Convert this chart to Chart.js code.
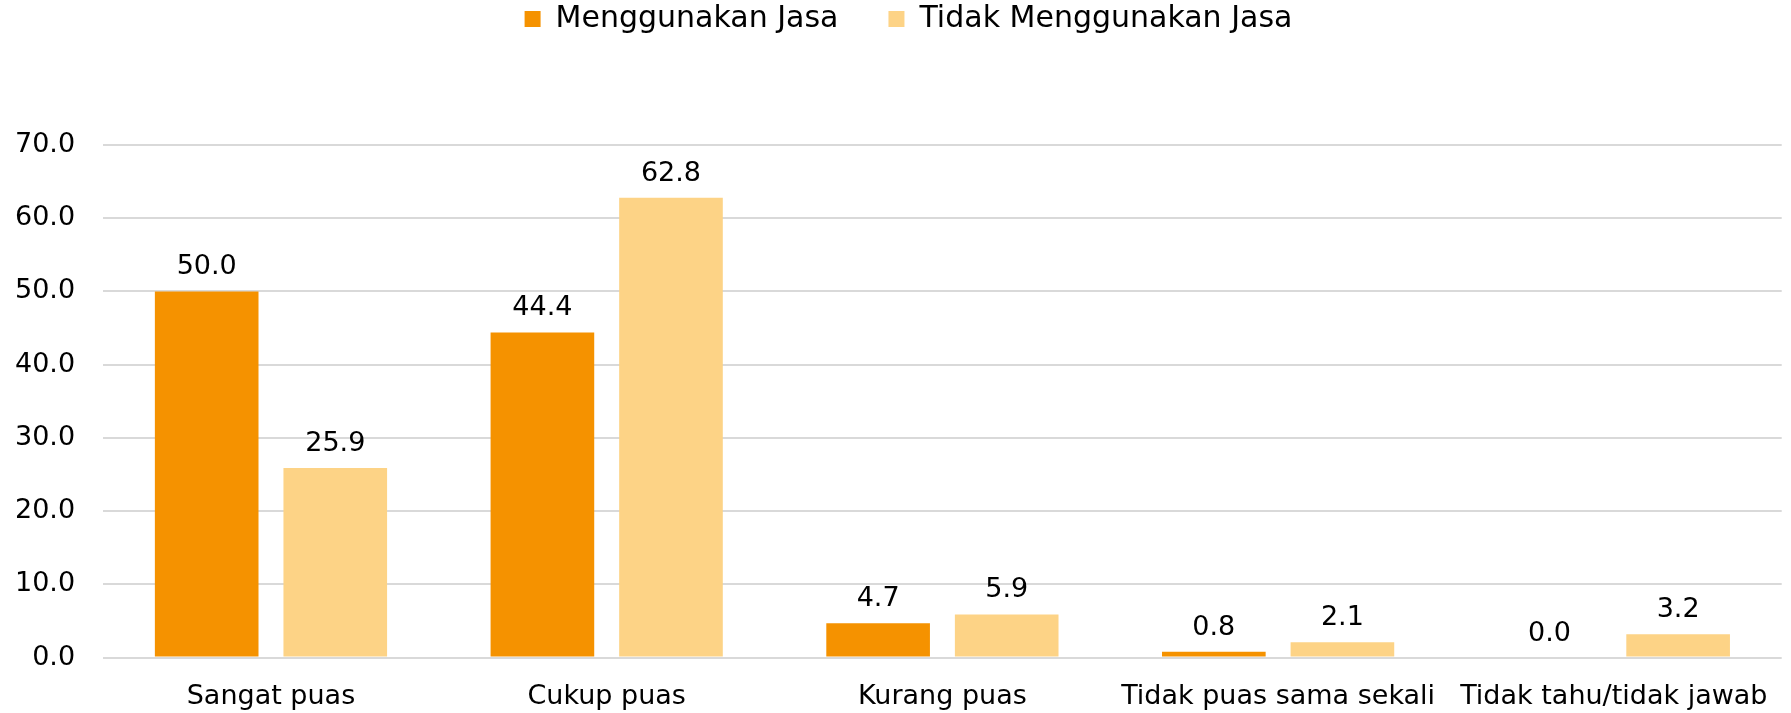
<!DOCTYPE html>
<html>
<head>
<meta charset="utf-8">
<script src="https://cdn.jsdelivr.net/npm/chart.js@4/dist/chart.umd.min.js"></script>
<style>
  html, body { margin: 0; padding: 0; background: #fff; }
  #wrap { width: 1791px; height: 713px; position: relative; }
</style>
</head>
<body>
<div id="wrap"><canvas id="grafik"></canvas></div>
<script>
// data
const kategori = ['Sangat puas', 'Cukup puas', 'Kurang puas', 'Tidak puas sama sekali', 'Tidak tahu/tidak jawab'];
const pakaiJasa = [50.0, 44.4, 4.7, 0.8, 0.0];
const tidakPakaiJasa = [25.9, 62.8, 5.9, 2.1, 3.2];
const tickY = [0, 10, 20, 30, 40, 50, 60, 70];

const FONT = '"DejaVu Sans", sans-serif';
const UKURAN = 27;

// label nilai di atas tiap batang
const labelNilai = {
  id: 'labelNilai',
  afterDatasetsDraw(chart) {
    const ctx = chart.ctx;
    ctx.save();
    ctx.font = `${UKURAN}px ${FONT}`;
    ctx.fillStyle = '#000';
    ctx.textAlign = 'center';
    ctx.textBaseline = 'alphabetic';
    chart.data.datasets.forEach((ds, i) => {
      const meta = chart.getDatasetMeta(i);
      meta.data.forEach((bar, j) => {
        ctx.fillText(ds.data[j].toFixed(1), bar.x, bar.y - 17);
      });
    });
    ctx.restore();
  }
};

// legenda: jarak ekstra di bawahnya, lalu digeser ke atas dan sedikit ke kanan
const aturLegenda = {
  id: 'aturLegenda',
  beforeInit(chart) {
    const fitAsli = chart.legend.fit;
    chart.legend.fit = function () {
      fitAsli.bind(chart.legend)();
      this.height = 145;
    };
  },
  afterLayout(chart) {
    chart.legend.top = -46;
    chart.legend.left += 22;
    chart.legend.right += 22;
  }
};

new Chart(document.getElementById('grafik'), {
  type: 'bar',
  data: {
    labels: kategori,
    datasets: [
      {
        label: 'Menggunakan Jasa',
        data: pakaiJasa,
        backgroundColor: '#F59200',
        categoryPercentage: 0.766,
        barPercentage: 0.806
      },
      {
        label: 'Tidak Menggunakan Jasa',
        data: tidakPakaiJasa,
        backgroundColor: '#FDD386',
        categoryPercentage: 0.766,
        barPercentage: 0.806
      }
    ]
  },
  options: {
    responsive: true,
    maintainAspectRatio: false,
    animation: false,
    // padding tick dihitung dua kali oleh Chart.js, jadi dikompensasi di sini
    layout: { padding: { top: 0, left: -13, right: 5, bottom: -23 } },
    plugins: {
      legend: {
        position: 'top',
        labels: {
          color: '#000',
          font: { family: FONT, size: 30 },
          boxWidth: 16,
          boxHeight: 16,
          padding: 50
        }
      },
      tooltip: { enabled: false }
    },
    scales: {
      y: {
        min: 0,
        max: 70,
        afterBuildTicks(axis) { axis.ticks = tickY.map(v => ({ value: v })); },
        grid: { color: '#d9d9d9', lineWidth: 2, drawTicks: false },
        border: { display: false },
        ticks: {
          color: '#000',
          font: { family: FONT, size: UKURAN },
          padding: 28,
          callback: v => Number(v).toFixed(1)
        }
      },
      x: {
        grid: { display: false, drawTicks: false },
        border: { display: false },
        ticks: {
          color: '#000',
          font: { family: FONT, size: UKURAN },
          padding: 23,
          maxRotation: 0,
          autoSkip: false
        }
      }
    }
  },
  plugins: [labelNilai, aturLegenda]
});
</script>
</body>
</html>
